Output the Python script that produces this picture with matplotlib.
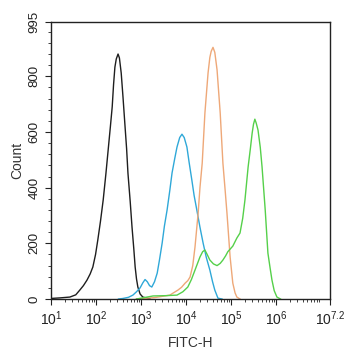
import numpy as np
import matplotlib
matplotlib.use("Agg")
from matplotlib import pyplot as plt
from matplotlib.ticker import FixedLocator, LogLocator, NullFormatter

plt.rcParams['font.family'] = ['Liberation Sans', 'DejaVu Sans']
plt.rcParams['mathtext.fontset'] = 'custom'
plt.rcParams['mathtext.rm'] = 'Liberation Sans'
plt.rcParams['mathtext.it'] = 'Liberation Sans'

# histogram outlines, x given as log10(FITC-H)
black_log = [1.0, 1.2, 1.42, 1.55, 1.64, 1.72, 1.80, 1.87, 1.93, 1.99, 2.04, 2.10, 2.16,
             2.22, 2.27, 2.32, 2.36, 2.39, 2.42, 2.45, 2.49, 2.52, 2.56, 2.60, 2.64,
             2.68, 2.71, 2.76, 2.80, 2.84, 2.87, 2.90, 2.93, 2.98, 3.04, 3.2]
black_cnt = [2, 4, 7, 15, 32, 48, 68, 90, 115, 160, 212, 280, 356,
             450, 535, 620, 690, 770, 833, 862, 880, 866, 812, 725, 632,
             540, 452, 350, 259, 180, 115, 72, 43, 18, 7, 0]

cyan_log = [2.5, 2.6, 2.72, 2.82, 2.90, 2.98, 3.04, 3.09, 3.14, 3.19, 3.24, 3.30, 3.36,
            3.41, 3.47, 3.52, 3.58, 3.64, 3.69, 3.75, 3.80, 3.86, 3.91, 3.96, 4.02,
            4.07, 4.13, 4.18, 4.24, 4.31, 4.38, 4.45, 4.53, 4.59, 4.64, 4.71, 4.8]
cyan_cnt = [0, 2, 6, 14, 26, 40, 58, 70, 62, 48, 43, 62, 93,
            140, 201, 262, 320, 390, 453, 505, 546, 580, 592, 580, 546,
            490, 427, 372, 320, 258, 201, 150, 104, 62, 32, 3, 0]

orange_log = [2.9, 3.3, 3.64, 3.82, 3.90, 3.98, 4.04, 4.09, 4.15, 4.20, 4.27, 4.31, 4.36,
              4.42, 4.49, 4.53, 4.56, 4.60, 4.64, 4.69, 4.76, 4.82, 4.87, 4.91, 4.98,
              5.04, 5.09, 5.13, 5.2]
orange_cnt = [0, 5, 14, 32, 42, 57, 66, 79, 120, 187, 309, 400, 488,
              668, 812, 868, 890, 904, 886, 823, 668, 488, 390, 309, 151,
              57, 22, 7, 0]

green_log = [2.9, 3.27, 3.55, 3.80, 3.93, 4.04, 4.12, 4.20, 4.31, 4.37, 4.42, 4.47,
             4.53, 4.61, 4.69, 4.76, 4.82, 4.88, 4.93, 5.04, 5.13, 5.2, 5.26, 5.31,
             5.38, 5.43, 5.47, 5.50, 5.53, 5.56, 5.6, 5.65, 5.69, 5.76, 5.82, 5.87,
             5.91, 5.96, 6.02, 6.1]
green_cnt = [0, 11, 12, 14, 26, 43, 70, 104, 151, 170, 176, 160,
             140, 126, 120, 128, 140, 155, 170, 190, 219, 237, 290, 356,
             474, 540, 596, 628, 646, 632, 607, 545, 474, 320, 165, 110,
             68, 30, 7, 0]

x_ticks = [1, 2, 3, 4, 5, 6, 7.2]
x_labels = [r'$10^{1}$', r'$10^{2}$', r'$10^{3}$', r'$10^{4}$', r'$10^{5}$', r'$10^{6}$', r'$10^{7.2}$']
y_ticks = [0, 200, 400, 600, 800, 995]

fig = plt.figure(figsize=(3.46, 3.50), dpi=100)
ax = fig.add_axes([0.1474, 0.1457, 0.8064, 0.7914])

ax.plot(10 ** np.array(black_log), black_cnt, color='#1e1e1e', lw=1.0)
ax.plot(10 ** np.array(cyan_log), cyan_cnt, color='#2fa8d8', lw=1.0)
ax.plot(10 ** np.array(orange_log), orange_cnt, color='#eea878', lw=1.0)
ax.plot(10 ** np.array(green_log), green_cnt, color='#55d04a', lw=1.0)

ax.set_xscale('log')
ax.set_xlim(10, 10 ** 7.2)
ax.set_ylim(0, 995)

ax.xaxis.set_major_locator(FixedLocator([10 ** v for v in x_ticks]))
ax.set_xticklabels(x_labels, fontsize=10)
ax.xaxis.set_minor_locator(LogLocator(base=10, subs=np.arange(2, 10), numticks=20))
ax.xaxis.set_minor_formatter(NullFormatter())

ax.set_yticks(y_ticks)
ax.set_yticklabels([str(v) for v in y_ticks], fontsize=9.5, rotation=90, va='center')
ax.yaxis.set_minor_locator(FixedLocator(np.arange(0, 995, 40)))

ax.tick_params(which='major', direction='out', length=4, width=0.8, colors='#222222')
ax.tick_params(which='minor', direction='out', length=2, width=0.6, colors='#222222')
for s in ax.spines.values():
    s.set_linewidth(1.0)
    s.set_color('#222222')

ax.set_xlabel('FITC-H', fontsize=10, color='#333333', labelpad=6)
ax.set_ylabel('Count', fontsize=10, color='#333333', labelpad=3)

fig.savefig('out.png', dpi=100)
